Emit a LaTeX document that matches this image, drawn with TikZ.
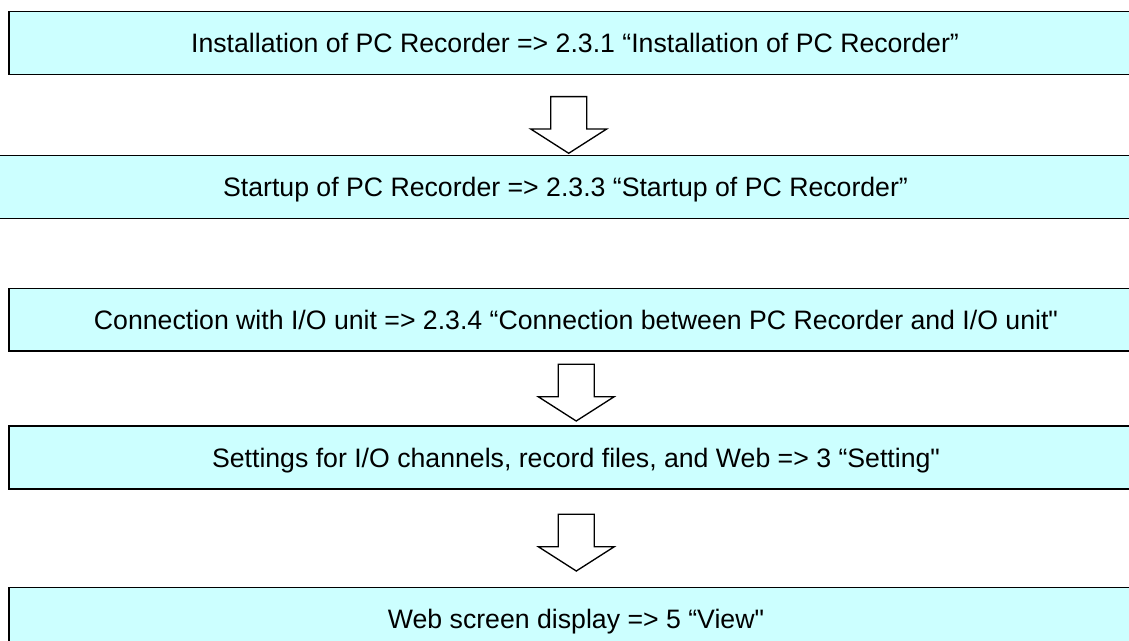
\documentclass[tikz,border=0pt]{standalone}
\usepackage{fontspec}
\setmainfont{Liberation Sans}[Ligatures=TeXOff]
\definecolor{boxcyan}{HTML}{CCFFFF}
\begin{document}
\begin{tikzpicture}[x=0.75pt,y=-0.75pt,
  stepbox/.style={draw=black, line width=1.1pt, fill=boxcyan, minimum height=47pt,
    inner sep=0pt, text height=14.3pt, text depth=0pt, font=\fontsize{20}{24}\selectfont},
  blockarrow/.style={draw=black, line width=1pt, fill=white, line join=miter},
  pics/downarrow/.style={code={
    \draw[blockarrow] (0,0) -- (38,-24.3) -- (18,-24.3) -- (18,-56.7)
      -- (-18,-56.7) -- (-18,-24.3) -- (-38,-24.3) -- cycle;}}]
\useasboundingbox (0,0) rectangle (1129,641);
\clip (0,0) rectangle (1129,641);
\node[stepbox, minimum width=849pt] (b1) at (575,43)
  {Installation of PC Recorder => 2.3.1 “Installation of PC Recorder”};
\node[stepbox, minimum width=863pt] (b2) at (565.5,187)
  {Startup of PC Recorder => 2.3.3 “Startup of PC Recorder”};
\node[stepbox, minimum width=850.5pt] (b3) at (576,319.7)
  {Connection with I/O unit => 2.3.4 “Connection between PC Recorder and I/O unit"};
\node[stepbox, minimum width=850.5pt] (b4) at (576,457.5)
  {Settings for I/O channels, record files, and Web => 3 “Setting"};
\node[stepbox, minimum width=850.5pt] (b5) at (576,619)
  {Web screen display => 5 “View"};
\pic (a1) at (568.7,153.3) {downarrow};
\pic (a2) at (576.2,421) {downarrow};
\pic (a3) at (576.3,571) {downarrow};
\end{tikzpicture}
\end{document}
